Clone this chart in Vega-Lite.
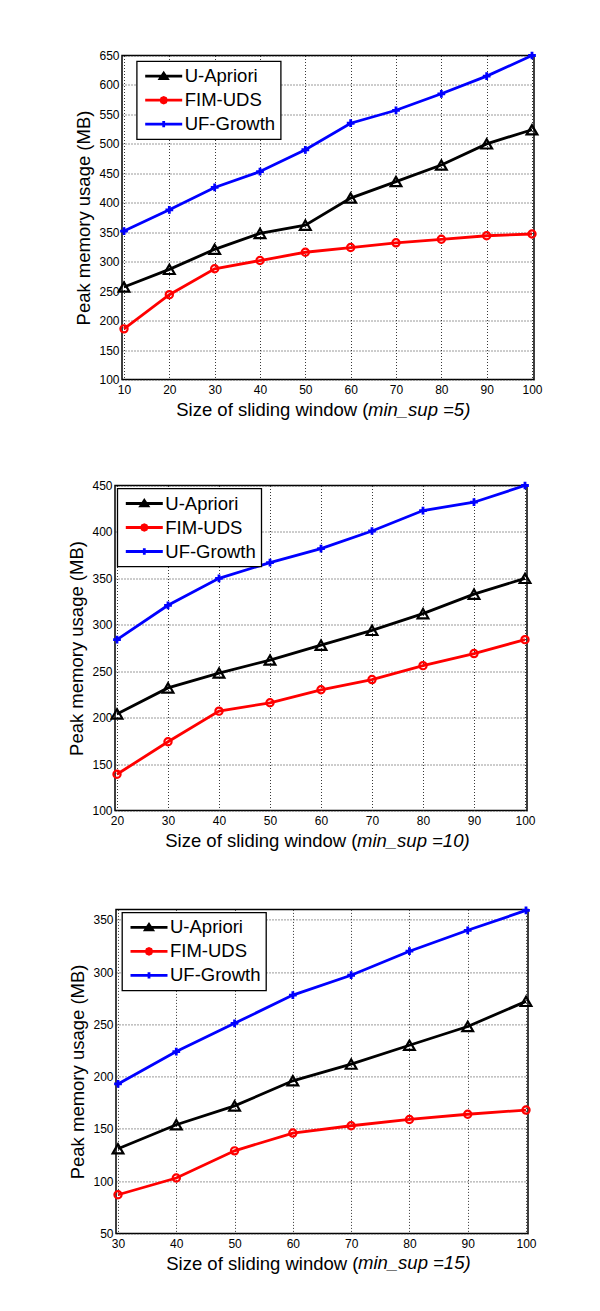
{
  "$schema": "https://vega.github.io/schema/vega-lite/v6.json",
  "background": "white",
  "padding": {"left": 65, "top": 44.5, "right": 0, "bottom": 0},
  "data": {"values": [
    {"panel": 1, "series": "U-Apriori", "x": 10, "y": 257},
    {"panel": 1, "series": "U-Apriori", "x": 20, "y": 287},
    {"panel": 1, "series": "U-Apriori", "x": 30, "y": 321},
    {"panel": 1, "series": "U-Apriori", "x": 40, "y": 348},
    {"panel": 1, "series": "U-Apriori", "x": 50, "y": 362},
    {"panel": 1, "series": "U-Apriori", "x": 60, "y": 408},
    {"panel": 1, "series": "U-Apriori", "x": 70, "y": 436},
    {"panel": 1, "series": "U-Apriori", "x": 80, "y": 464},
    {"panel": 1, "series": "U-Apriori", "x": 90, "y": 500},
    {"panel": 1, "series": "U-Apriori", "x": 100, "y": 524},
    {"panel": 1, "series": "FIM-UDS", "x": 10, "y": 186},
    {"panel": 1, "series": "FIM-UDS", "x": 20, "y": 244},
    {"panel": 1, "series": "FIM-UDS", "x": 30, "y": 288},
    {"panel": 1, "series": "FIM-UDS", "x": 40, "y": 302},
    {"panel": 1, "series": "FIM-UDS", "x": 50, "y": 316},
    {"panel": 1, "series": "FIM-UDS", "x": 60, "y": 324},
    {"panel": 1, "series": "FIM-UDS", "x": 70, "y": 332},
    {"panel": 1, "series": "FIM-UDS", "x": 80, "y": 338},
    {"panel": 1, "series": "FIM-UDS", "x": 90, "y": 344},
    {"panel": 1, "series": "FIM-UDS", "x": 100, "y": 347},
    {"panel": 1, "series": "UF-Growth", "x": 10, "y": 352},
    {"panel": 1, "series": "UF-Growth", "x": 20, "y": 388},
    {"panel": 1, "series": "UF-Growth", "x": 30, "y": 426},
    {"panel": 1, "series": "UF-Growth", "x": 40, "y": 453},
    {"panel": 1, "series": "UF-Growth", "x": 50, "y": 490},
    {"panel": 1, "series": "UF-Growth", "x": 60, "y": 535},
    {"panel": 1, "series": "UF-Growth", "x": 70, "y": 557},
    {"panel": 1, "series": "UF-Growth", "x": 80, "y": 585},
    {"panel": 1, "series": "UF-Growth", "x": 90, "y": 615},
    {"panel": 1, "series": "UF-Growth", "x": 100, "y": 650},
    {"panel": 2, "series": "U-Apriori", "x": 20, "y": 204},
    {"panel": 2, "series": "U-Apriori", "x": 30, "y": 232},
    {"panel": 2, "series": "U-Apriori", "x": 40, "y": 248},
    {"panel": 2, "series": "U-Apriori", "x": 50, "y": 262},
    {"panel": 2, "series": "U-Apriori", "x": 60, "y": 278},
    {"panel": 2, "series": "U-Apriori", "x": 70, "y": 294},
    {"panel": 2, "series": "U-Apriori", "x": 80, "y": 312},
    {"panel": 2, "series": "U-Apriori", "x": 90, "y": 333},
    {"panel": 2, "series": "U-Apriori", "x": 100, "y": 350},
    {"panel": 2, "series": "FIM-UDS", "x": 20, "y": 139},
    {"panel": 2, "series": "FIM-UDS", "x": 30, "y": 174},
    {"panel": 2, "series": "FIM-UDS", "x": 40, "y": 207},
    {"panel": 2, "series": "FIM-UDS", "x": 50, "y": 216},
    {"panel": 2, "series": "FIM-UDS", "x": 60, "y": 230},
    {"panel": 2, "series": "FIM-UDS", "x": 70, "y": 241},
    {"panel": 2, "series": "FIM-UDS", "x": 80, "y": 256},
    {"panel": 2, "series": "FIM-UDS", "x": 90, "y": 269},
    {"panel": 2, "series": "FIM-UDS", "x": 100, "y": 284},
    {"panel": 2, "series": "UF-Growth", "x": 20, "y": 284},
    {"panel": 2, "series": "UF-Growth", "x": 30, "y": 321},
    {"panel": 2, "series": "UF-Growth", "x": 40, "y": 350},
    {"panel": 2, "series": "UF-Growth", "x": 50, "y": 367},
    {"panel": 2, "series": "UF-Growth", "x": 60, "y": 382},
    {"panel": 2, "series": "UF-Growth", "x": 70, "y": 401},
    {"panel": 2, "series": "UF-Growth", "x": 80, "y": 423},
    {"panel": 2, "series": "UF-Growth", "x": 90, "y": 432},
    {"panel": 2, "series": "UF-Growth", "x": 100, "y": 450},
    {"panel": 3, "series": "U-Apriori", "x": 30, "y": 131},
    {"panel": 3, "series": "U-Apriori", "x": 40, "y": 154},
    {"panel": 3, "series": "U-Apriori", "x": 50, "y": 172},
    {"panel": 3, "series": "U-Apriori", "x": 60, "y": 196},
    {"panel": 3, "series": "U-Apriori", "x": 70, "y": 212},
    {"panel": 3, "series": "U-Apriori", "x": 80, "y": 230},
    {"panel": 3, "series": "U-Apriori", "x": 90, "y": 248},
    {"panel": 3, "series": "U-Apriori", "x": 100, "y": 272},
    {"panel": 3, "series": "FIM-UDS", "x": 30, "y": 87},
    {"panel": 3, "series": "FIM-UDS", "x": 40, "y": 103},
    {"panel": 3, "series": "FIM-UDS", "x": 50, "y": 129},
    {"panel": 3, "series": "FIM-UDS", "x": 60, "y": 146},
    {"panel": 3, "series": "FIM-UDS", "x": 70, "y": 153},
    {"panel": 3, "series": "FIM-UDS", "x": 80, "y": 159},
    {"panel": 3, "series": "FIM-UDS", "x": 90, "y": 164},
    {"panel": 3, "series": "FIM-UDS", "x": 100, "y": 168},
    {"panel": 3, "series": "UF-Growth", "x": 30, "y": 193},
    {"panel": 3, "series": "UF-Growth", "x": 40, "y": 224},
    {"panel": 3, "series": "UF-Growth", "x": 50, "y": 251},
    {"panel": 3, "series": "UF-Growth", "x": 60, "y": 278},
    {"panel": 3, "series": "UF-Growth", "x": 70, "y": 297},
    {"panel": 3, "series": "UF-Growth", "x": 80, "y": 320},
    {"panel": 3, "series": "UF-Growth", "x": 90, "y": 340},
    {"panel": 3, "series": "UF-Growth", "x": 100, "y": 359}
  ]},
  "columns": 1,
  "align": "none",
  "spacing": 47.9,
  "resolve": {"scale": {"color": "independent"}, "legend": {"color": "independent"}},
  "concat": [
    {
      "columns": 1,
      "align": "none",
      "spacing": 54,
      "resolve": {"scale": {"color": "independent"}, "legend": {"color": "independent"}},
      "concat": [
        {
          "hconcat": [
            {"width": 8, "height": 10, "data": {"values": []}, "mark": "point", "view": {"stroke": null}},
            {
              "width": 412,
              "height": 324,
              "transform": [{"filter": "datum.panel == 1"}],
              "title": {"text": "min_sup =5)", "orient": "bottom", "anchor": "start", "frame": "group", "dx": 246, "dy": -18.5, "offset": 0, "fontStyle": "italic"},
              "encoding": {
                "x": {"field": "x", "type": "quantitative",
                  "scale": {"domain": [10, 100], "nice": false, "zero": false, "padding": 2},
                  "axis": {"values": [10, 20, 30, 40, 50, 60, 70, 80, 90, 100], "title": "Size of sliding window (", "titleAlign": "right", "titleX": 246}},
                "y": {"field": "y", "type": "quantitative",
                  "scale": {"domain": [100, 650], "nice": false, "zero": false},
                  "axis": {"values": [100, 150, 200, 250, 300, 350, 400, 450, 500, 550, 600, 650], "title": "Peak memory usage (MB)", "titleX": -29}},
                "color": {"field": "series", "type": "nominal",
                  "scale": {"domain": ["U-Apriori", "FIM-UDS", "UF-Growth"], "range": ["#000000", "#ff0000", "#0000ff"]},
                  "legend": {"legendX": 14.7, "legendY": 5.7,
                    "encode": {
                      "symbols": {"update": {
                        "shape": {"signal": "datum.value === 'U-Apriori' ? 'M-1,0H1M-0.19,0.13L0,-0.16L0.19,0.13Z' : datum.value === 'FIM-UDS' ? 'M-1,0H1M0.15,0L0.106,0.106L0,0.15L-0.106,0.106L-0.15,0L-0.106,-0.106L0,-0.15L0.106,-0.106Z' : 'M-1,0H1M0,-0.17V0.17'"},
                        "fill": {"signal": "datum.value === 'U-Apriori' ? 'black' : 'transparent'"},
                        "stroke": {"signal": "datum.value === 'U-Apriori' ? 'black' : datum.value === 'FIM-UDS' ? 'red' : 'blue'"},
                        "size": {"value": 1369},
                        "strokeWidth": {"value": 2.8},
                        "opacity": {"value": 1}
                      }},
                      "legend": {"update": {"strokeWidth": {"value": 1.3}}}
                    }}}
              },
              "layer": [
                {"mark": {"type": "line", "strokeWidth": 2.8}},
                {"transform": [{"filter": "datum.series == 'U-Apriori'"}], "mark": {"type": "point", "shape": "triangle-up", "size": 115, "filled": false, "strokeWidth": 2.2, "opacity": 1}},
                {"transform": [{"filter": "datum.series == 'FIM-UDS'"}], "mark": {"type": "point", "shape": "circle", "size": 52, "filled": false, "strokeWidth": 2.2, "opacity": 1}},
                {"transform": [{"filter": "datum.series == 'UF-Growth'"}], "mark": {"type": "point", "shape": "M-1,0H1M0,-1V1", "size": 60, "filled": false, "strokeWidth": 2.8, "opacity": 1}}
              ]
            }
          ],
          "spacing": 0,
          "resolve": {"scale": {"color": "independent"}, "legend": {"color": "independent"}}
        },
        {
          "hconcat": [
            {"width": 1, "height": 10, "data": {"values": []}, "mark": "point", "view": {"stroke": null}},
            {
              "width": 412,
              "height": 325,
              "transform": [{"filter": "datum.panel == 2"}],
              "title": {"text": "min_sup =10)", "orient": "bottom", "anchor": "start", "frame": "group", "dx": 242, "dy": -18.5, "offset": 0, "fontStyle": "italic"},
              "encoding": {
                "x": {"field": "x", "type": "quantitative",
                  "scale": {"domain": [20, 100], "nice": false, "zero": false, "padding": 2},
                  "axis": {"values": [20, 30, 40, 50, 60, 70, 80, 90, 100], "title": "Size of sliding window (", "titleAlign": "right", "titleX": 242}},
                "y": {"field": "y", "type": "quantitative",
                  "scale": {"domain": [100, 450], "nice": false, "zero": false},
                  "axis": {"values": [100, 150, 200, 250, 300, 350, 400, 450], "title": "Peak memory usage (MB)", "titleX": -29}},
                "color": {"field": "series", "type": "nominal",
                  "scale": {"domain": ["U-Apriori", "FIM-UDS", "UF-Growth"], "range": ["#000000", "#ff0000", "#0000ff"]},
                  "legend": {"legendX": 2.3, "legendY": 3,
                    "encode": {
                      "symbols": {"update": {
                        "shape": {"signal": "datum.value === 'U-Apriori' ? 'M-1,0H1M-0.19,0.13L0,-0.16L0.19,0.13Z' : datum.value === 'FIM-UDS' ? 'M-1,0H1M0.15,0L0.106,0.106L0,0.15L-0.106,0.106L-0.15,0L-0.106,-0.106L0,-0.15L0.106,-0.106Z' : 'M-1,0H1M0,-0.17V0.17'"},
                        "fill": {"signal": "datum.value === 'U-Apriori' ? 'black' : 'transparent'"},
                        "stroke": {"signal": "datum.value === 'U-Apriori' ? 'black' : datum.value === 'FIM-UDS' ? 'red' : 'blue'"},
                        "size": {"value": 1369},
                        "strokeWidth": {"value": 2.8},
                        "opacity": {"value": 1}
                      }},
                      "legend": {"update": {"strokeWidth": {"value": 1.3}}}
                    }}}
              },
              "layer": [
                {"mark": {"type": "line", "strokeWidth": 2.8}},
                {"transform": [{"filter": "datum.series == 'U-Apriori'"}], "mark": {"type": "point", "shape": "triangle-up", "size": 115, "filled": false, "strokeWidth": 2.2, "opacity": 1}},
                {"transform": [{"filter": "datum.series == 'FIM-UDS'"}], "mark": {"type": "point", "shape": "circle", "size": 52, "filled": false, "strokeWidth": 2.2, "opacity": 1}},
                {"transform": [{"filter": "datum.series == 'UF-Growth'"}], "mark": {"type": "point", "shape": "M-1,0H1M0,-1V1", "size": 60, "filled": false, "strokeWidth": 2.8, "opacity": 1}}
              ]
            }
          ],
          "spacing": 0,
          "resolve": {"scale": {"color": "independent"}, "legend": {"color": "independent"}}
        }
      ]
    },
    {
      "hconcat": [
        {"width": 2, "height": 10, "data": {"values": []}, "mark": "point", "view": {"stroke": null}},
        {
          "width": 412,
          "height": 324,
          "transform": [{"filter": "datum.panel == 3"}],
          "title": {"text": "min_sup =15)", "orient": "bottom", "anchor": "start", "frame": "group", "dx": 242, "dy": -18.5, "offset": 0, "fontStyle": "italic"},
          "encoding": {
            "x": {"field": "x", "type": "quantitative",
              "scale": {"domain": [30, 100], "nice": false, "zero": false, "padding": 2},
              "axis": {"values": [30, 40, 50, 60, 70, 80, 90, 100], "title": "Size of sliding window (", "titleAlign": "right", "titleX": 242}},
            "y": {"field": "y", "type": "quantitative",
              "scale": {"domain": [50, 360], "nice": false, "zero": false},
              "axis": {"values": [50, 100, 150, 200, 250, 300, 350], "title": "Peak memory usage (MB)", "titleX": -29}},
            "color": {"field": "series", "type": "nominal",
              "scale": {"domain": ["U-Apriori", "FIM-UDS", "UF-Growth"], "range": ["#000000", "#ff0000", "#0000ff"]},
              "legend": {"legendX": 6, "legendY": 3,
                "encode": {
                  "symbols": {"update": {
                    "shape": {"signal": "datum.value === 'U-Apriori' ? 'M-1,0H1M-0.19,0.13L0,-0.16L0.19,0.13Z' : datum.value === 'FIM-UDS' ? 'M-1,0H1M0.15,0L0.106,0.106L0,0.15L-0.106,0.106L-0.15,0L-0.106,-0.106L0,-0.15L0.106,-0.106Z' : 'M-1,0H1M0,-0.17V0.17'"},
                    "fill": {"signal": "datum.value === 'U-Apriori' ? 'black' : 'transparent'"},
                    "stroke": {"signal": "datum.value === 'U-Apriori' ? 'black' : datum.value === 'FIM-UDS' ? 'red' : 'blue'"},
                    "size": {"value": 1369},
                    "strokeWidth": {"value": 2.8},
                    "opacity": {"value": 1}
                  }},
                  "legend": {"update": {"strokeWidth": {"value": 1.3}}}
                }}}
          },
          "layer": [
            {"mark": {"type": "line", "strokeWidth": 2.8}},
            {"transform": [{"filter": "datum.series == 'U-Apriori'"}], "mark": {"type": "point", "shape": "triangle-up", "size": 115, "filled": false, "strokeWidth": 2.2, "opacity": 1}},
            {"transform": [{"filter": "datum.series == 'FIM-UDS'"}], "mark": {"type": "point", "shape": "circle", "size": 52, "filled": false, "strokeWidth": 2.2, "opacity": 1}},
            {"transform": [{"filter": "datum.series == 'UF-Growth'"}], "mark": {"type": "point", "shape": "M-1,0H1M0,-1V1", "size": 60, "filled": false, "strokeWidth": 2.8, "opacity": 1}}
          ]
        }
      ],
      "spacing": 0,
      "resolve": {"scale": {"color": "independent"}, "legend": {"color": "independent"}}
    }
  ],
  "config": {
    "font": "Liberation Sans",
    "view": {"stroke": "#000000", "strokeWidth": 1.5},
    "axis": {"grid": true, "gridColor": "#222222", "gridDash": [1, 2], "gridOpacity": 0.9, "gridWidth": 1, "ticks": false, "domain": false,
      "labelFont": "Liberation Sans", "labelFontSize": 12, "labelColor": "#000000",
      "titleFont": "Liberation Sans", "titleFontSize": 18.5, "titleFontWeight": "normal", "titleColor": "#000000"},
    "axisX": {"labelPadding": 5, "titlePadding": 5, "labelFlush": false, "labelOverlap": false},
    "axisY": {"labelPadding": 3, "titlePadding": 4, "labelOverlap": false},
    "legend": {"orient": "none", "direction": "vertical", "title": null, "padding": 5, "strokeColor": "#000000", "fillColor": "#ffffff", "cornerRadius": 0,
      "symbolSize": 1369, "symbolStrokeWidth": 2.8, "symbolOffset": 2, "labelOffset": 1,
      "labelFont": "Liberation Sans", "labelFontSize": 18.5, "labelColor": "#000000", "labelLimit": 300,
      "clipHeight": 20, "rowPadding": 4},
    "title": {"font": "Liberation Sans", "fontSize": 18.5, "fontWeight": "normal", "color": "#000000"}
  }
}
